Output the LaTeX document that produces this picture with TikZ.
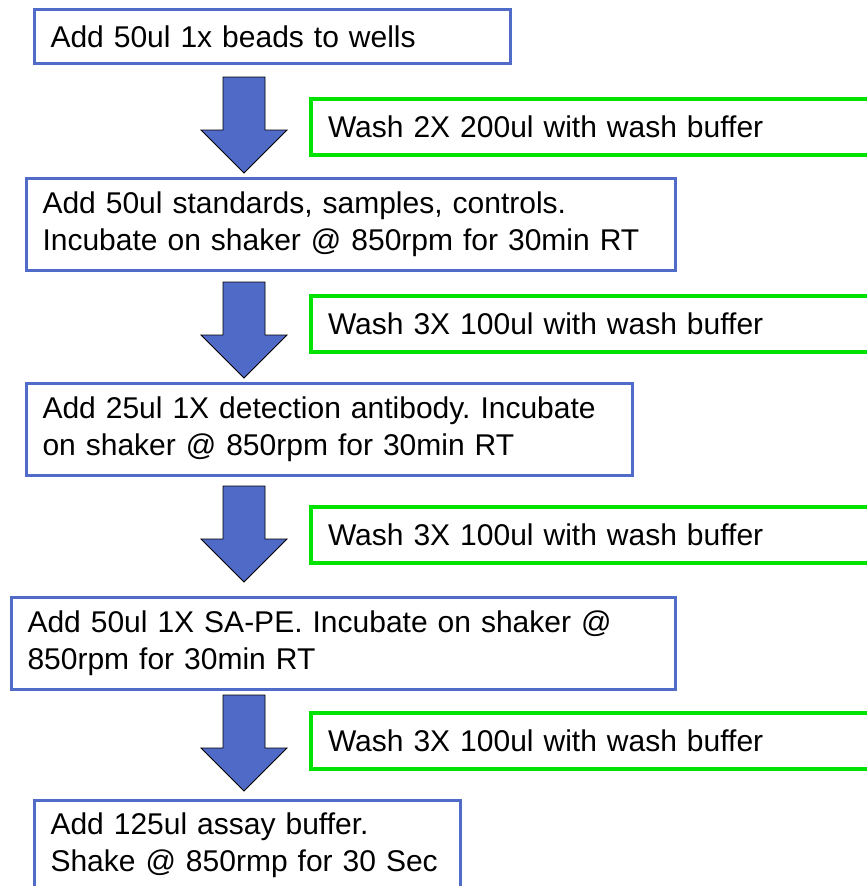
\documentclass[tikz,border=0pt]{standalone}
\usepackage{fontspec}
\setmainfont{Liberation Sans}
\frenchspacing
\definecolor{stepblue}{RGB}{80,108,200}
\definecolor{washgreen}{RGB}{0,226,0}
\definecolor{arrowblue}{RGB}{80,106,200}
\begin{document}
\begin{tikzpicture}[x=1pt,y=-1pt,
  every node/.style={font=\fontsize{30}{37}\selectfont, text=black},
  stepbox/.style={draw=stepblue, line width=3pt, fill=white, anchor=north west,
    inner xsep=16pt, inner ysep=0pt, align=left},
  washbox/.style={draw=washgreen, line width=4pt, fill=white, anchor=north west,
    inner xsep=17pt, inner ysep=0pt, align=left, text width=566pt, minimum height=56pt},
  downarrow/.pic={
    \draw[fill=arrowblue, draw=black, line width=0.9pt, line join=miter]
      (-21,0) -- (21,0) -- (21,53) -- (43,53) -- (0,96) -- (-43,53) -- (-21,53) -- cycle;
  }]
\clip (0,0) rectangle (867,886);
\fill[white] (0,0) rectangle (867,886);

% protocol steps
\node[stepbox, text width=444pt, minimum height=54pt] (s1) at (33,8)
  {Add 50ul 1x beads to wells};
\node[stepbox, text width=617pt, minimum height=92pt] (s2) at (25,177)
  {Add 50ul standards, samples, controls.\\Incubate on shaker @ 850rpm for 30min RT};
\node[stepbox, text width=574pt, minimum height=92pt] (s3) at (25,382)
  {Add 25ul 1X detection antibody. Incubate\\on shaker @ 850rpm for 30min RT};
\node[stepbox, text width=632pt, minimum height=92pt] (s4) at (10,596)
  {Add 50ul 1X SA-PE. Incubate on shaker @\\850rpm for 30min RT};
\node[stepbox, text width=394pt, minimum height=90pt] (s5) at (33,799)
  {Add 125ul assay buffer.\\Shake @ 850rmp for 30 Sec};

% wash steps
\node[washbox] (w1) at (309,97)  {Wash 2X 200ul with wash buffer};
\node[washbox] (w2) at (309,294) {Wash 3X 100ul with wash buffer};
\node[washbox] (w3) at (309,505) {Wash 3X 100ul with wash buffer};
\node[washbox] (w4) at (309,711) {Wash 3X 100ul with wash buffer};

% block arrows between steps
\foreach \ytop in {77,282,486,695}
  \pic at (244,\ytop) {downarrow};
\end{tikzpicture}
\end{document}
